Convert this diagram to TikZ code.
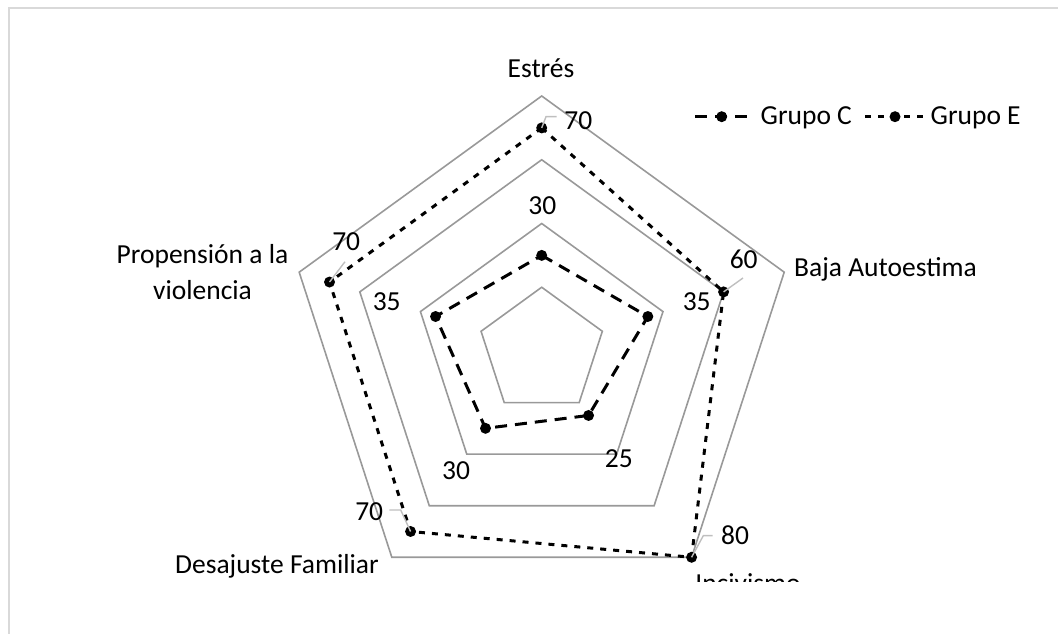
\documentclass[tikz,border=0pt]{standalone}
\usepackage{fontspec}
\setmainfont{Carlito}

\begin{document}
\begin{tikzpicture}[x=1pt, y=1pt,
    ring/.style={draw=gray!80, line width=1.6pt},
    grupoC/.style={line width=3pt, dash pattern=on 12pt off 8pt},
    grupoE/.style={line width=3pt, dash pattern=on 6pt off 7pt},
    leader/.style={draw=gray!50, line width=1.4pt},
    lbl/.style={inner sep=0pt, font=\fontsize{27.5}{36}\selectfont}]

    \useasboundingbox (0, 0) rectangle (1058, 634);

    % Chart frame (only top and left edge show)
    \draw[gray!30, line width=2pt] (9, 0) -- (9, 626) -- (1058, 626);

    \begin{scope}[shift={(541.7, 283)}]

        % Grid
        \draw[ring] (90:255) -- (18:255) -- (-54:255) -- (234:255) -- (162:255) -- cycle;
        \draw[ring] (90:191.25) -- (18:191.25) -- (-54:191.25) -- (234:191.25) -- (162:191.25) -- cycle;
        \draw[ring] (90:127.5) -- (18:127.5) -- (-54:127.5) -- (234:127.5) -- (162:127.5) -- cycle;
        \draw[ring] (90:63.75) -- (18:63.75) -- (-54:63.75) -- (234:63.75) -- (162:63.75) -- cycle;

        % Grupo C: 30, 35, 25, 30, 35
        \coordinate (cEst) at (90:95.6);
        \coordinate (cBaja) at (18:111.6);
        \coordinate (cInc) at (-54:79.7);
        \coordinate (cDes) at (234:95.6);
        \coordinate (cProp) at (162:111.6);

        % Grupo E: 70, 60, 80, 70, 70
        \coordinate (eEst) at (90:223.1);
        \coordinate (eBaja) at (18:191.25);
        \coordinate (eInc) at (-54:255);
        \coordinate (eDes) at (234:223.1);
        \coordinate (eProp) at (162:223.1);

    \end{scope}

    \draw[grupoC] (cEst) -- (cBaja) -- (cInc) -- (cDes) -- (cProp) -- cycle;
    \draw[grupoE] (eEst) -- (eBaja) -- (eInc) -- (eDes) -- (eProp) -- cycle;

    \fill (cEst) circle (5.5pt);
    \fill (cBaja) circle (5.5pt);
    \fill (cInc) circle (5.5pt);
    \fill (cDes) circle (5.5pt);
    \fill (cProp) circle (5.5pt);
    \fill (eEst) circle (5.5pt);
    \fill (eBaja) circle (5.5pt);
    \fill (eInc) circle (5.5pt);
    \fill (eDes) circle (5.5pt);
    \fill (eProp) circle (5.5pt);

    % Leader lines of the Grupo E labels
    \coordinate (kEst) at (546, 517.3);
    \coordinate (lEst) at (556.7, 517.3);
    \coordinate (lBaja) at (743, 356);
    \coordinate (kInc) at (703.3, 98.3);
    \coordinate (lInc) at (712.7, 98.3);
    \coordinate (kDes) at (400.7, 124);
    \coordinate (lDes) at (389.3, 124);
    \coordinate (lProp) at (345, 372.3);
    \draw[leader] (eEst) -- (kEst) -- (lEst);
    \draw[leader] (eBaja) -- (lBaja);
    \draw[leader] (eInc) -- (kInc) -- (lInc);
    \draw[leader] (eDes) -- (kDes) -- (lDes);
    \draw[leader] (eProp) -- (lProp);

    % Values
    \node[lbl, anchor=base] (vEstE) at (578.3, 504) {70};
    \node[lbl, anchor=base] (vEstC) at (542.3, 419) {30};
    \node[lbl, anchor=base] (vBajaE) at (743.7, 365) {60};
    \node[lbl, anchor=base] (vBajaC) at (696.7, 323.3) {35};
    \node[lbl, anchor=base] (vIncE) at (735, 89.7) {80};
    \node[lbl, anchor=base] (vIncC) at (618.8, 166.7) {25};
    \node[lbl, anchor=base] (vDesE) at (369.2, 113.3) {70};
    \node[lbl, anchor=base] (vDesC) at (456, 154) {30};
    \node[lbl, anchor=base] (vPropE) at (346.2, 383.3) {70};
    \node[lbl, anchor=base] (vPropC) at (386.7, 323.3) {35};

    % Axis names
    \node[lbl, anchor=base] (est) at (541, 556) {Estrés};
    \node[lbl, anchor=base west] (baja) at (794, 357.3) {Baja Autoestima};
    \node[lbl, anchor=base west] (des) at (175, 60) {Desajuste Familiar};
    \node[lbl, anchor=base] (prop) at (202.5, 370) {Propensión a la};
    \node[lbl, anchor=base] (viol) at (202.5, 334) {violencia};
    \begin{scope}
        \clip (600, 52) rectangle (900, 110);
        \node[lbl, anchor=base] (inc) at (748, 41) {Incivismo};
    \end{scope}

    % Legend
    \coordinate (gC1) at (695, 517.3);
    \coordinate (gC2) at (750, 517.3);
    \coordinate (gCm) at (721.7, 517.3);
    \draw[grupoC] (gC1) -- (gC2);
    \fill (gCm) circle (5.5pt);
    \node[lbl, anchor=base west] (legC) at (760.5, 509) {Grupo C};

    \coordinate (gE1) at (865, 517.3);
    \coordinate (gE2) at (925, 517.3);
    \coordinate (gEm) at (895, 517.3);
    \draw[grupoE] (gE1) -- (gE2);
    \fill (gEm) circle (5.5pt);
    \node[lbl, anchor=base west] (legE) at (930.5, 509) {Grupo E};

\end{tikzpicture}
\end{document}
